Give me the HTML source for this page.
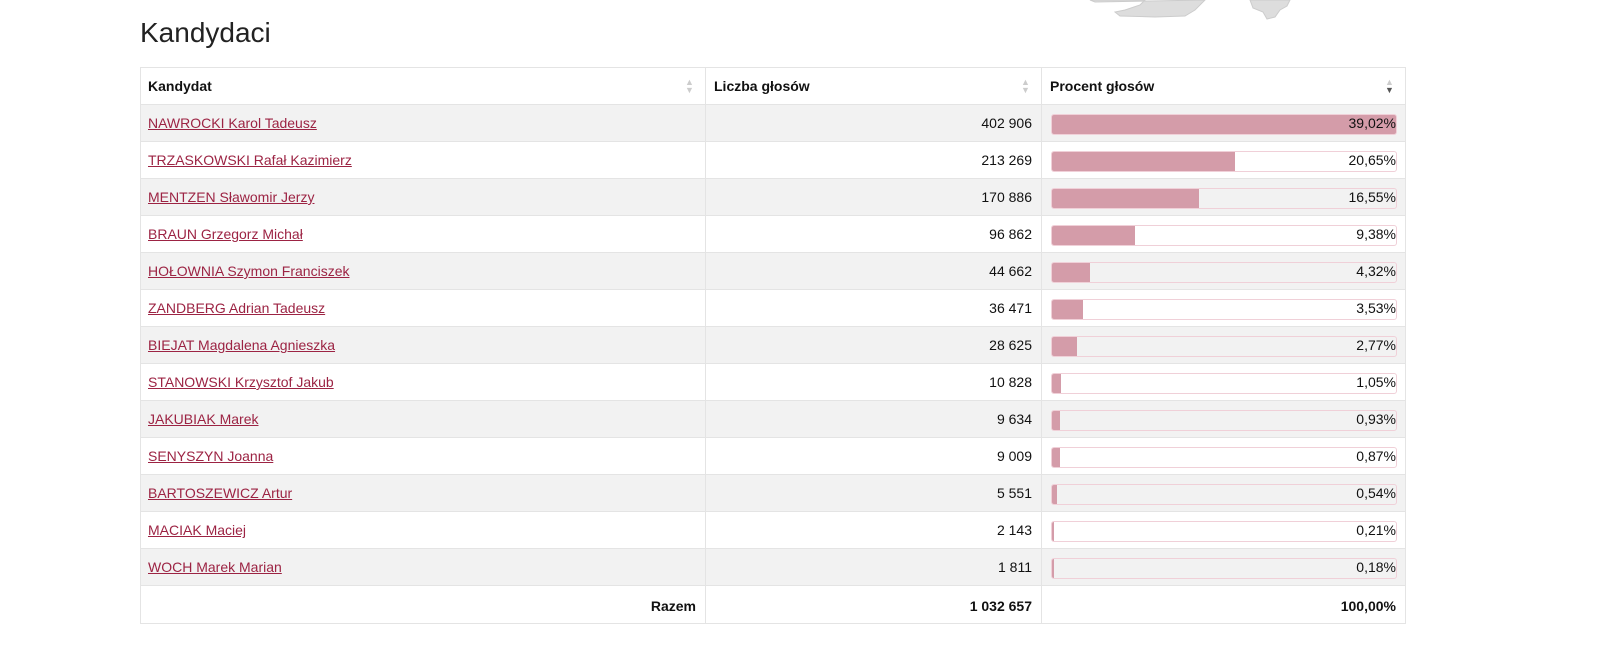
<!DOCTYPE html>
<html><head><meta charset="utf-8"><style>
body{margin:0;width:1600px;height:661px;background:#fff;font-family:"Liberation Sans",sans-serif;position:relative;overflow:hidden;color:#111}
.a{position:absolute}
h1{position:absolute;left:140px;top:17px;margin:0;font-weight:normal;font-size:28px;color:#222}
.row{position:absolute;left:140px;width:1266px;height:37px;border-top:1px solid #e4e4e4;box-sizing:border-box}
.g{background:#f2f2f2}
.name{position:absolute;left:8px;top:10px;font-size:14px;color:#9c2343;text-decoration:underline}
.num{position:absolute;right:374px;top:10px;font-size:14px}
.bar{position:absolute;left:911px;top:9px;width:346px;height:21px;border:1px solid #f0d0d8;border-radius:3px;box-sizing:border-box;overflow:hidden}
.fill{position:absolute;left:0;top:0;bottom:0;background:#d49ca9}
.pct{position:absolute;right:10px;top:10px;font-size:14px}
.vl{position:absolute;top:67px;height:557px;width:1px;background:#e4e4e4;z-index:5}
</style></head><body>
<svg class="a" style="left:1085px;top:0" width="210" height="25"><polygon points="5,0 60,0 55,5 40,10 30,12 35,16 70,17 100,16 110,10 120,0 10,2" fill="#ddd" stroke="#ccc"/><polygon points="165,0 205,0 202,6 195,10 190,17 182,19 178,12 168,8" fill="#ddd" stroke="#ccc"/></svg>
<h1>Kandydaci</h1>
<div class="a" style="left:140px;top:67px;width:1266px;height:557px;border:1px solid #e4e4e4;box-sizing:border-box;z-index:5"></div>
<div class="vl" style="left:705px"></div><div class="vl" style="left:1041px"></div>
<div class="a" style="left:148px;top:78px;font-size:14px;font-weight:bold">Kandydat</div>
<div class="a" style="left:714px;top:78px;font-size:14px;font-weight:bold">Liczba głosów</div>
<div class="a" style="left:1050px;top:78px;font-size:14px;font-weight:bold">Procent głosów</div>
<div class="a" style="left:685px;top:78px;font-size:9px;color:#ccc;line-height:8px">▲<br>▼</div>
<div class="a" style="left:1021px;top:78px;font-size:9px;color:#ccc;line-height:8px">▲<br>▼</div>
<div class="a" style="left:1385px;top:78px;font-size:9px;line-height:8px"><span style="color:#ccc">▲</span><br><span style="color:#555">▼</span></div>
<div class="row g" style="top:104px"><span class="name">NAWROCKI Karol Tadeusz</span><span class="num">402 906</span><div class="bar"><div class="fill" style="width:346px"></div></div><span class="pct">39,02%</span></div>
<div class="row" style="top:141px"><span class="name">TRZASKOWSKI Rafał Kazimierz</span><span class="num">213 269</span><div class="bar"><div class="fill" style="width:183px"></div></div><span class="pct">20,65%</span></div>
<div class="row g" style="top:178px"><span class="name">MENTZEN Sławomir Jerzy</span><span class="num">170 886</span><div class="bar"><div class="fill" style="width:147px"></div></div><span class="pct">16,55%</span></div>
<div class="row" style="top:215px"><span class="name">BRAUN Grzegorz Michał</span><span class="num">96 862</span><div class="bar"><div class="fill" style="width:83px"></div></div><span class="pct">9,38%</span></div>
<div class="row g" style="top:252px"><span class="name">HOŁOWNIA Szymon Franciszek</span><span class="num">44 662</span><div class="bar"><div class="fill" style="width:38px"></div></div><span class="pct">4,32%</span></div>
<div class="row" style="top:289px"><span class="name">ZANDBERG Adrian Tadeusz</span><span class="num">36 471</span><div class="bar"><div class="fill" style="width:31px"></div></div><span class="pct">3,53%</span></div>
<div class="row g" style="top:326px"><span class="name">BIEJAT Magdalena Agnieszka</span><span class="num">28 625</span><div class="bar"><div class="fill" style="width:25px"></div></div><span class="pct">2,77%</span></div>
<div class="row" style="top:363px"><span class="name">STANOWSKI Krzysztof Jakub</span><span class="num">10 828</span><div class="bar"><div class="fill" style="width:9px"></div></div><span class="pct">1,05%</span></div>
<div class="row g" style="top:400px"><span class="name">JAKUBIAK Marek</span><span class="num">9 634</span><div class="bar"><div class="fill" style="width:8px"></div></div><span class="pct">0,93%</span></div>
<div class="row" style="top:437px"><span class="name">SENYSZYN Joanna</span><span class="num">9 009</span><div class="bar"><div class="fill" style="width:8px"></div></div><span class="pct">0,87%</span></div>
<div class="row g" style="top:474px"><span class="name">BARTOSZEWICZ Artur</span><span class="num">5 551</span><div class="bar"><div class="fill" style="width:5px"></div></div><span class="pct">0,54%</span></div>
<div class="row" style="top:511px"><span class="name">MACIAK Maciej</span><span class="num">2 143</span><div class="bar"><div class="fill" style="width:2px"></div></div><span class="pct">0,21%</span></div>
<div class="row g" style="top:548px"><span class="name">WOCH Marek Marian</span><span class="num">1 811</span><div class="bar"><div class="fill" style="width:2px"></div></div><span class="pct">0,18%</span></div>
<div class="row" style="top:585px;font-weight:bold"><span class="num" style="right:710px;top:12px">Razem</span><span class="num" style="top:12px">1 032 657</span><span class="pct" style="top:12px">100,00%</span></div>
</body></html>
